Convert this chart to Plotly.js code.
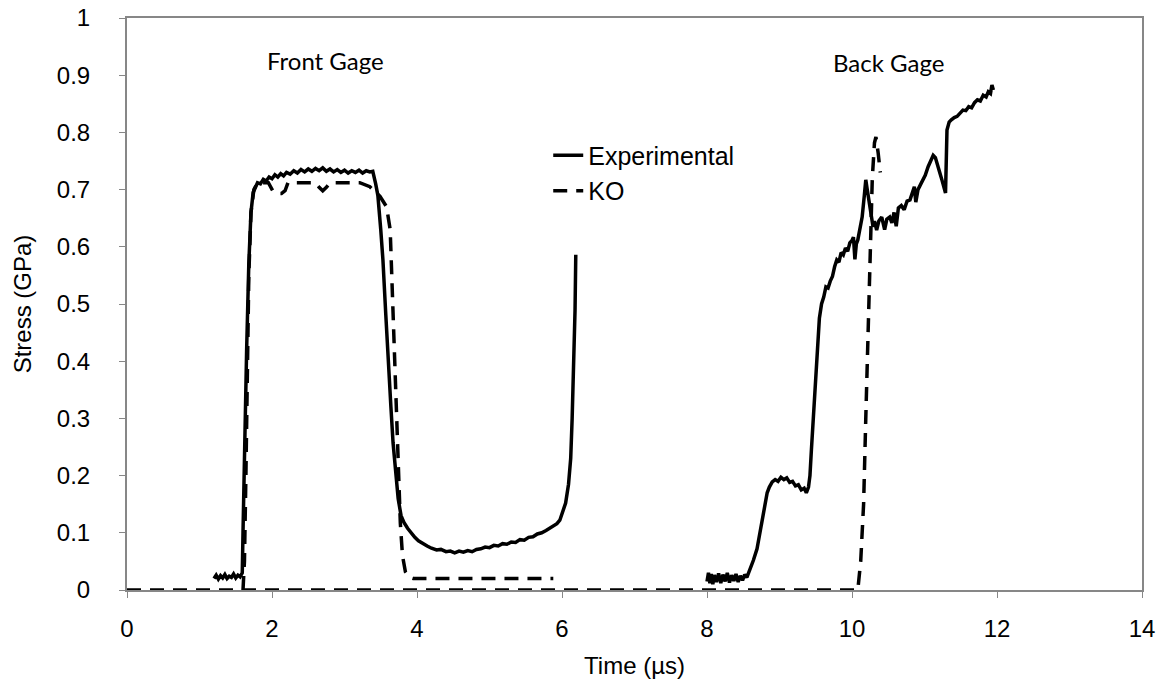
<!DOCTYPE html>
<html>
<head>
<meta charset="utf-8">
<script src="https://cdn.plot.ly/plotly-3.0.1.min.js"></script>
<style>html,body{margin:0;padding:0;background:#fff;}#chart{width:1169px;height:688px;}</style>
</head>
<body>
<div id="chart"></div>
<script>
// Experimental, front gage
const expFrontTime = [1.20,1.23,1.26,1.29,1.32,1.35,1.38,1.41,1.44,1.47,1.50,1.53,1.56,1.58,1.59,1.60,1.62,1.65,1.68,1.71,1.74,1.77,1.80,1.84,1.88,1.92,1.96,2.00,2.04,2.08,2.12,2.16,2.20,2.25,2.30,2.35,2.40,2.45,2.50,2.55,2.60,2.65,2.70,2.75,2.80,2.85,2.90,2.95,3.00,3.05,3.10,3.15,3.20,3.25,3.30,3.35,3.39,3.43,3.46,3.50,3.53,3.57,3.60,3.64,3.67,3.70,3.74,3.78,3.82,3.87,3.92,3.97,4.02,4.08,4.14,4.20,4.27,4.33,4.40,4.46,4.52,4.58,4.64,4.70,4.76,4.82,4.88,4.94,5.00,5.06,5.12,5.18,5.24,5.30,5.36,5.42,5.48,5.54,5.60,5.66,5.72,5.78,5.83,5.88,5.93,5.97,6.01,6.05,6.09,6.12,6.14,6.16,6.18,6.19];
const expFrontStress = [0.020,0.026,0.019,0.025,0.021,0.027,0.020,0.024,0.022,0.028,0.021,0.026,0.023,0.027,0.030,0.10,0.25,0.42,0.57,0.66,0.695,0.705,0.712,0.710,0.718,0.715,0.722,0.719,0.726,0.722,0.728,0.724,0.730,0.727,0.733,0.729,0.735,0.731,0.736,0.732,0.737,0.733,0.738,0.732,0.736,0.731,0.735,0.730,0.734,0.729,0.733,0.730,0.734,0.729,0.733,0.731,0.732,0.71,0.69,0.63,0.577,0.48,0.40,0.32,0.257,0.21,0.16,0.13,0.118,0.108,0.099,0.092,0.086,0.081,0.077,0.073,0.070,0.071,0.067,0.068,0.065,0.068,0.066,0.069,0.067,0.071,0.072,0.075,0.074,0.078,0.077,0.081,0.080,0.084,0.083,0.088,0.087,0.092,0.093,0.098,0.100,0.104,0.108,0.112,0.116,0.122,0.135,0.152,0.185,0.23,0.30,0.38,0.49,0.586];

// Experimental, back gage
const expBackTime = [8.00,8.02,8.04,8.06,8.08,8.10,8.13,8.16,8.19,8.22,8.25,8.28,8.31,8.34,8.37,8.40,8.43,8.46,8.49,8.52,8.55,8.59,8.64,8.69,8.73,8.76,8.80,8.83,8.86,8.90,8.94,8.98,9.02,9.06,9.10,9.14,9.18,9.22,9.26,9.30,9.34,9.37,9.40,9.42,9.44,9.46,9.48,9.50,9.52,9.55,9.58,9.61,9.64,9.67,9.70,9.73,9.76,9.79,9.82,9.85,9.88,9.91,9.94,9.97,10.00,10.02,10.04,10.06,10.08,10.11,10.14,10.17,10.19,10.21,10.24,10.27,10.29,10.31,10.34,10.37,10.41,10.45,10.48,10.52,10.55,10.58,10.61,10.64,10.68,10.72,10.76,10.80,10.83,10.86,10.88,10.91,10.95,10.98,11.01,11.05,11.08,11.12,11.15,11.18,11.21,11.24,11.27,11.29,11.31,11.34,11.37,11.41,11.45,11.49,11.53,11.57,11.61,11.65,11.69,11.73,11.77,11.81,11.85,11.88,11.91,11.93,11.95];
const expBackStress = [0.015,0.030,0.012,0.028,0.010,0.026,0.014,0.029,0.012,0.027,0.015,0.030,0.013,0.026,0.016,0.028,0.014,0.025,0.017,0.027,0.022,0.035,0.052,0.072,0.100,0.128,0.157,0.170,0.180,0.189,0.193,0.190,0.197,0.193,0.196,0.188,0.190,0.182,0.184,0.175,0.178,0.170,0.180,0.200,0.245,0.290,0.332,0.380,0.430,0.475,0.500,0.512,0.530,0.528,0.540,0.548,0.565,0.577,0.573,0.590,0.586,0.598,0.592,0.607,0.611,0.617,0.578,0.605,0.612,0.630,0.652,0.690,0.717,0.700,0.675,0.650,0.635,0.645,0.629,0.645,0.652,0.630,0.648,0.652,0.642,0.660,0.636,0.668,0.672,0.665,0.680,0.682,0.695,0.705,0.678,0.700,0.710,0.717,0.725,0.740,0.748,0.760,0.756,0.745,0.730,0.717,0.700,0.694,0.804,0.818,0.822,0.826,0.828,0.834,0.839,0.838,0.845,0.843,0.852,0.857,0.855,0.865,0.862,0.871,0.868,0.883,0.874];

// KO model, front gage
const koFrontTime = [1.60,1.62,1.64,1.66,1.68,1.71,1.75,1.80,1.95,2.01,2.07,2.13,2.18,2.22,2.60,2.65,2.70,2.75,2.80,3.21,3.35,3.49,3.58,3.63,3.67,3.70,3.73,3.77,3.80,3.84,3.90,3.95,5.88];
const koFrontStress = [0,0.05,0.20,0.38,0.55,0.66,0.70,0.712,0.712,0.698,0.693,0.693,0.698,0.712,0.712,0.704,0.698,0.704,0.712,0.712,0.705,0.688,0.670,0.630,0.480,0.340,0.230,0.117,0.060,0.032,0.022,0.020,0.020];

// KO model, back gage
const koBackTime = [0,10.08,10.12,10.16,10.19,10.22,10.25,10.28,10.31,10.33,10.36,10.39];
const koBackStress = [0,0,0.05,0.15,0.30,0.45,0.60,0.72,0.782,0.792,0.765,0.730];

const xTickVals = [0,2,4,6,8,10,12,14];
const yTickVals = [0,0.1,0.2,0.3,0.4,0.5,0.6,0.7,0.8,0.9,1];
const gageLabels = ["Front Gage","Back Gage"];
const gageLabelX = [2.74,10.51];
const gageLabelY = [0.926,0.923];

const expX = expFrontTime.concat([null], expBackTime);
const expY = expFrontStress.concat([null], expBackStress);
const koX = koFrontTime.concat([null], koBackTime);
const koY = koFrontStress.concat([null], koBackStress);

const axisColor = '#878787';
const tickFont = {family: 'Liberation Sans, Arial, sans-serif', size: 24, color: '#000'};

const traces = [
  {x: expX, y: expY, name: 'Experimental', type: 'scatter', mode: 'lines',
   line: {color: '#000', width: 3.5}, connectgaps: false},
  {x: koX, y: koY, name: 'KO', type: 'scatter', mode: 'lines',
   line: {color: '#000', width: 3.5, dash: '14px,9px'}, connectgaps: false}
];

const layout = {
  width: 1169, height: 688,
  margin: {l: 127, r: 27, t: 18, b: 98},
  paper_bgcolor: '#fff', plot_bgcolor: '#fff',
  showlegend: true,
  legend: {x: 0.415, y: 0.80, xanchor: 'left', yanchor: 'top',
           font: {family: 'Liberation Sans, Arial, sans-serif', size: 25, color: '#000'},
           bgcolor: 'rgba(0,0,0,0)', borderwidth: 0},
  xaxis: {range: [0,14], tickvals: xTickVals, ticks: 'outside', ticklen: 6, tickwidth: 1,
          tickcolor: axisColor, showline: true, linecolor: axisColor, linewidth: 2,
          mirror: true, showgrid: false, zeroline: false, tickfont: tickFont,
          ticklabelstandoff: 10,
          title: {text: 'Time (µs)', font: tickFont, standoff: 16}},
  yaxis: {range: [0,1], tickvals: yTickVals, ticks: 'outside', ticklen: 6, tickwidth: 1,
          tickcolor: axisColor, showline: true, linecolor: axisColor, linewidth: 2,
          mirror: true, showgrid: false, zeroline: false, tickfont: tickFont,
          ticklabelstandoff: 24,
          title: {text: 'Stress (GPa)', font: tickFont, standoff: 18}},
  annotations: gageLabels.map((t, i) => ({
    x: gageLabelX[i], y: gageLabelY[i], xref: 'x', yref: 'y', text: t, showarrow: false,
    font: {family: 'Lato, Open Sans, sans-serif', size: 24, color: '#000'}
  }))
};

Plotly.newPlot('chart', traces, layout, {displayModeBar: false, staticPlot: true});
</script>
</body>
</html>
